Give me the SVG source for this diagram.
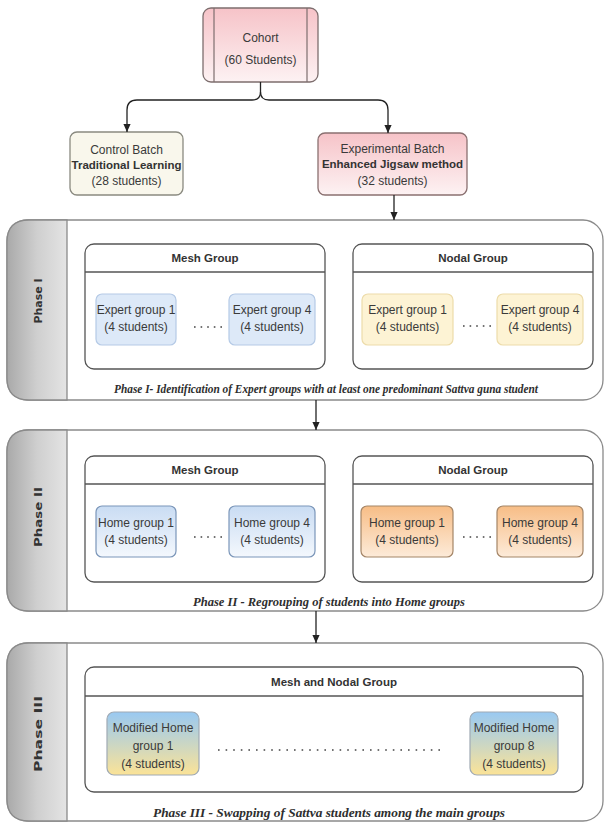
<svg xmlns="http://www.w3.org/2000/svg" width="607" height="823" viewBox="0 0 607 823">
<defs>
  <linearGradient id="gPink" x1="0" y1="0" x2="0" y2="1"><stop offset="0" stop-color="#f6c3c8"/><stop offset="1" stop-color="#fdf2f3"/></linearGradient>
  <linearGradient id="gTab" x1="0" y1="0" x2="1" y2="0"><stop offset="0" stop-color="#a9a9a9"/><stop offset="0.5" stop-color="#cfcfcf"/><stop offset="1" stop-color="#e4e4e4"/></linearGradient>
  <linearGradient id="gHomeBlue" x1="0" y1="0" x2="0" y2="1"><stop offset="0" stop-color="#c9dcf3"/><stop offset="1" stop-color="#f4f8fd"/></linearGradient>
  <linearGradient id="gHomeOrange" x1="0" y1="0" x2="0" y2="1"><stop offset="0" stop-color="#f7bd86"/><stop offset="1" stop-color="#fdebd9"/></linearGradient>
  <linearGradient id="gMod" x1="0" y1="0" x2="0" y2="1"><stop offset="0" stop-color="#99c9f2"/><stop offset="1" stop-color="#fbe397"/></linearGradient>
  <marker id="arr" viewBox="0 0 10 10" refX="10" refY="5" markerWidth="8" markerHeight="8" orient="auto" markerUnits="userSpaceOnUse"><path d="M0,0.5 L10,5 L0,9.5 Z" fill="#222"/></marker>
  <style>
    .t{font-family:"Liberation Sans",Arial,sans-serif;font-size:12px;fill:#3a3a3a;text-anchor:middle}
    .b{font-family:"Liberation Sans",Arial,sans-serif;font-size:11.5px;font-weight:bold;fill:#333;text-anchor:middle}
    .cap{font-family:"Liberation Serif","Times New Roman",serif;font-size:12px;font-weight:bold;font-style:italic;fill:#2e2e2e}
    .ph{font-family:"DejaVu Sans",Verdana,sans-serif;font-size:11px;font-weight:bold;fill:#333;text-anchor:middle}
    .outer{fill:#ffffff;stroke:#8a8a8a;stroke-width:1.3}
    .tab{fill:url(#gTab);stroke:#8a8a8a;stroke-width:1.3}
    .cont{fill:#ffffff;stroke:#555;stroke-width:1.3}
    .hdr{stroke:#555;stroke-width:1.3}
    .expM{fill:#dde9f8;stroke:#b5cae6;stroke-width:1.2}
    .expN{fill:#fdf3d4;stroke:#eddcaa;stroke-width:1.2}
    .homeM{fill:url(#gHomeBlue);stroke:#7b96b9;stroke-width:1.2}
    .homeN{fill:url(#gHomeOrange);stroke:#a48567;stroke-width:1.2}
    .mod{fill:url(#gMod);stroke:#a0aab4;stroke-width:1.2}
    .dots{stroke:#444;stroke-width:1.6;stroke-dasharray:1.6 5;fill:none}
    .con{fill:none;stroke:#222;stroke-width:1.3}
  </style>
</defs>

<!-- Top nodes -->
<g id="cohort">
  <rect x="203" y="8" width="115" height="74" rx="8" fill="url(#gPink)" stroke="#7d6e6e" stroke-width="1.3"/>
  <line x1="214" y1="8" x2="214" y2="82" stroke="#7d6e6e" stroke-width="1.2"/>
  <line x1="307" y1="8" x2="307" y2="82" stroke="#7d6e6e" stroke-width="1.2"/>
  <text class="t" x="260.5" y="42">Cohort</text>
  <text class="t" x="260.5" y="64">(60 Students)</text>
</g>
<g id="control">
  <rect x="70" y="132" width="113" height="63" rx="7" fill="#f9f7ec" stroke="#8a8a80" stroke-width="1.3"/>
  <text class="t" x="126.5" y="154">Control Batch</text>
  <text class="b" x="126.5" y="169">Traditional Learning</text>
  <text class="t" x="126.5" y="185">(28 students)</text>
</g>
<g id="experimental">
  <rect x="318" y="133" width="149" height="62" rx="7" fill="url(#gPink)" stroke="#8a7070" stroke-width="1.3"/>
  <text class="t" x="392.5" y="153">Experimental Batch</text>
  <text class="b" x="392.5" y="168">Enhanced Jigsaw method</text>
  <text class="t" x="392.5" y="185">(32 students)</text>
</g>

<!-- Phase I -->
<g id="phase1">
  <rect class="outer" x="7" y="220" width="596" height="180" rx="20"/>
  <path class="tab" d="M67,220 H29 Q7,220 7,242 V378 Q7,400 29,400 H67 Z"/>
  <text class="ph" transform="translate(42,301) rotate(-90)" textLength="45" lengthAdjust="spacingAndGlyphs">Phase I</text>
  <text class="cap" x="114" y="393" textLength="424" lengthAdjust="spacingAndGlyphs">Phase I- Identification of Expert groups with at least one predominant Sattva guna student</text>
</g>
<g id="mesh1">
  <rect class="cont" x="85" y="244" width="240" height="125" rx="9"/>
  <line class="hdr" x1="85" y1="272" x2="325" y2="272"/>
  <text class="b" x="205" y="262">Mesh Group</text>
</g>
<g id="mesh1-expert1">
  <rect class="expM" x="96" y="294" width="80" height="51" rx="6"/>
  <text class="t" x="136" y="314">Expert group 1</text>
  <text class="t" x="136" y="331">(4 students)</text>
</g>
<g id="mesh1-expert4">
  <rect class="expM" x="229" y="294" width="86" height="51" rx="6"/>
  <text class="t" x="272" y="314">Expert group 4</text>
  <text class="t" x="272" y="331">(4 students)</text>
</g>
<line class="dots" x1="194" y1="327" x2="222" y2="327"/>
<g id="nodal1">
  <rect class="cont" x="353" y="244" width="240" height="125" rx="9"/>
  <line class="hdr" x1="353" y1="272" x2="593" y2="272"/>
  <text class="b" x="473" y="262">Nodal Group</text>
</g>
<g id="nodal1-expert1">
  <rect class="expN" x="362" y="294" width="91" height="51" rx="6"/>
  <text class="t" x="407.5" y="314">Expert group 1</text>
  <text class="t" x="407.5" y="331">(4 students)</text>
</g>
<g id="nodal1-expert4">
  <rect class="expN" x="497" y="294" width="86" height="51" rx="6"/>
  <text class="t" x="540" y="314">Expert group 4</text>
  <text class="t" x="540" y="331">(4 students)</text>
</g>
<line class="dots" x1="463" y1="326" x2="491" y2="326"/>

<!-- Phase II -->
<g id="phase2">
  <rect class="outer" x="7" y="430" width="596" height="181" rx="20"/>
  <path class="tab" d="M67,430 H29 Q7,430 7,452 V589 Q7,611 29,611 H67 Z"/>
  <text class="ph" transform="translate(42,517) rotate(-90)" textLength="60" lengthAdjust="spacingAndGlyphs">Phase II</text>
  <text class="cap" x="193" y="606" textLength="272" lengthAdjust="spacingAndGlyphs">Phase II - Regrouping of students into Home groups</text>
</g>
<g id="mesh2">
  <rect class="cont" x="85" y="456" width="240" height="126" rx="9"/>
  <line class="hdr" x1="85" y1="484" x2="325" y2="484"/>
  <text class="b" x="205" y="474">Mesh Group</text>
</g>
<g id="mesh2-home1">
  <rect class="homeM" x="96" y="506" width="80" height="51" rx="6"/>
  <text class="t" x="136" y="527">Home group 1</text>
  <text class="t" x="136" y="544">(4 students)</text>
</g>
<g id="mesh2-home4">
  <rect class="homeM" x="229" y="506" width="86" height="51" rx="6"/>
  <text class="t" x="272" y="527">Home group 4</text>
  <text class="t" x="272" y="544">(4 students)</text>
</g>
<line class="dots" x1="194" y1="537" x2="222" y2="537"/>
<g id="nodal2">
  <rect class="cont" x="353" y="456" width="240" height="126" rx="9"/>
  <line class="hdr" x1="353" y1="484" x2="593" y2="484"/>
  <text class="b" x="473" y="474">Nodal Group</text>
</g>
<g id="nodal2-home1">
  <rect class="homeN" x="361" y="506" width="92" height="51" rx="6"/>
  <text class="t" x="407" y="527">Home group 1</text>
  <text class="t" x="407" y="544">(4 students)</text>
</g>
<g id="nodal2-home4">
  <rect class="homeN" x="497" y="506" width="86" height="51" rx="6"/>
  <text class="t" x="540" y="527">Home group 4</text>
  <text class="t" x="540" y="544">(4 students)</text>
</g>
<line class="dots" x1="463" y1="537" x2="491" y2="537"/>

<!-- Phase III -->
<g id="phase3">
  <rect class="outer" x="7" y="643" width="596" height="178" rx="20"/>
  <path class="tab" d="M67,643 H29 Q7,643 7,665 V799 Q7,821 29,821 H67 Z"/>
  <text class="ph" transform="translate(42,734) rotate(-90)" textLength="76" lengthAdjust="spacingAndGlyphs">Phase III</text>
  <text class="cap" x="153" y="817" textLength="352" lengthAdjust="spacingAndGlyphs">Phase III - Swapping of Sattva students among the main groups</text>
</g>
<g id="meshnodal3">
  <rect class="cont" x="85" y="667" width="498" height="125" rx="9"/>
  <line class="hdr" x1="85" y1="696" x2="583" y2="696"/>
  <text class="b" x="334" y="686">Mesh and Nodal Group</text>
</g>
<g id="mod1">
  <rect class="mod" x="107" y="712" width="92" height="63" rx="7"/>
  <text class="t" x="153" y="732">Modified Home</text>
  <text class="t" x="153" y="750">group 1</text>
  <text class="t" x="153" y="768">(4 students)</text>
</g>
<g id="mod8">
  <rect class="mod" x="470" y="712" width="88" height="63" rx="7"/>
  <text class="t" x="514" y="732">Modified Home</text>
  <text class="t" x="514" y="750">group 8</text>
  <text class="t" x="514" y="768">(4 students)</text>
</g>
<line class="dots" x1="218" y1="750" x2="445" y2="750" style="stroke-dasharray:1.6 6"/>

<!-- Connectors -->
<g id="connectors">
  <path class="con" d="M260.5,82 V92 Q260.5,100 252,100 H137 Q127,100 127,110 V132" marker-end="url(#arr)"/>
  <path class="con" d="M260.5,92 Q260.5,100 269,100 H378 Q388,100 388,110 V133" marker-end="url(#arr)"/>
  <path class="con" d="M394,195 V220" marker-end="url(#arr)"/>
  <path class="con" d="M316,400 V430" marker-end="url(#arr)"/>
  <path class="con" d="M316,611 V643" marker-end="url(#arr)"/>
</g>
</svg>
